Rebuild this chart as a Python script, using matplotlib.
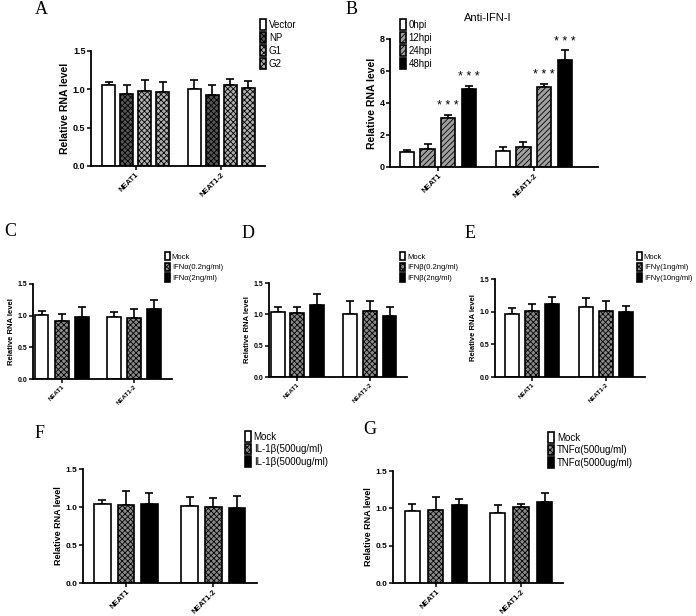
import matplotlib
matplotlib.use("Agg")
import matplotlib.pyplot as plt
import numpy as np

plt.rcParams["font.family"] = ["Liberation Sans", "DejaVu Sans"]
plt.rcParams["hatch.linewidth"] = 0.6

W, H = 696, 616
groups = ["NEAT1", "NEAT1-2"]

# panel A
a_labels = ["Vector", "NP", "G1", "G2"]
a_vals = [[1.05, 0.94, 0.98, 0.96], [1.01, 0.93, 1.06, 1.02]]
a_errs = [[0.05, 0.12, 0.14, 0.13], [0.11, 0.13, 0.07, 0.09]]

# panel B
b_labels = ["0hpi", "12hpi", "24hpi", "48hpi"]
b_vals = [[0.92, 1.15, 3.05, 4.90], [1.02, 1.23, 5.01, 6.68]]
b_errs = [[0.14, 0.27, 0.21, 0.17], [0.21, 0.36, 0.19, 0.61]]

# panel C
c_labels = ["Mock", "IFNα(0.2ng/ml)", "IFNα(2ng/ml)"]
c_vals = [[1.01, 0.92, 0.98], [0.98, 0.96, 1.11]]
c_errs = [[0.06, 0.11, 0.15], [0.08, 0.14, 0.13]]

# panel D
d_labels = ["Mock", "IFNβ(0.2ng/ml)", "IFNβ(2ng/ml)"]
d_vals = [[1.03, 1.02, 1.15], [1.01, 1.06, 0.97]]
d_errs = [[0.08, 0.10, 0.17], [0.20, 0.16, 0.15]]

# panel E
e_labels = ["Mock", "IFNγ(1ng/ml)", "IFNγ(10ng/ml)"]
e_vals = [[0.97, 1.01, 1.11], [1.07, 1.01, 0.99]]
e_errs = [[0.09, 0.10, 0.11], [0.14, 0.15, 0.09]]

# panel F
f_labels = ["Mock", "IL-1β(500ug/ml)", "IL-1β(5000ug/ml)"]
f_vals = [[1.04, 1.03, 1.04], [1.01, 1.00, 0.99]]
f_errs = [[0.05, 0.18, 0.15], [0.12, 0.12, 0.15]]

# panel G
g_labels = ["Mock", "TNFα(500ug/ml)", "TNFα(5000ug/ml)"]
g_vals = [[0.96, 0.98, 1.05], [0.94, 1.02, 1.08]]
g_errs = [[0.10, 0.17, 0.07], [0.11, 0.04, 0.12]]

b_stars = [[None, None, "***", "***"], [None, None, "***", "***"]]

WHITE = dict(facecolor="white", hatch=None)
BLACK = dict(facecolor="black", hatch=None)
MIDCHK = dict(facecolor="#8a8a8a", hatch="xxxxxx")


def px_axes(fig, x0, x1, y0, ytop):
    return fig.add_axes([x0 / W, 1 - y0 / H, (x1 - x0) / W, (y0 - ytop) / H])


def bar_panel(ax, vals, errs, labels, styles, width, step, xlim, ylim, yticks,
              tfs, xfs, lfs, stars=None):
    n = len(labels)
    offs = (np.arange(n) - (n - 1) / 2) * step
    handles = []
    for i in range(n):
        xs = np.arange(len(groups)) + offs[i]
        hv = [v[i] for v in vals]
        he = [e[i] for e in errs]
        st = styles[i]
        bars = ax.bar(xs, hv, width, color=st["facecolor"], edgecolor="black",
                      hatch=st["hatch"], linewidth=1.2, zorder=2, label=labels[i])
        ax.errorbar(xs, hv, yerr=[np.zeros(len(he)), he], fmt="none",
                    ecolor="black", elinewidth=1.2, capsize=3, capthick=1.2,
                    zorder=1)
        handles.append(bars)
        if stars is not None:
            for g in range(len(groups)):
                if stars[g][i]:
                    ax.text(xs[g], hv[g] + he[g] + ylim[1] * 0.02, "* * *",
                            ha="center", va="bottom", fontsize=9)
    ax.set_xlim(*xlim)
    ax.set_ylim(*ylim)
    ax.set_yticks(yticks)
    ax.set_yticklabels([str(t) for t in yticks] if isinstance(yticks[0], int)
                       else [f"{t:.1f}" for t in yticks],
                       fontsize=tfs, fontweight="bold")
    ax.set_xticks(range(len(groups)))
    ax.set_xticklabels(groups, rotation=45, ha="right", rotation_mode="anchor",
                       fontsize=xfs, fontweight="bold")
    ax.set_ylabel("Relative RNA level", fontsize=lfs, fontweight="bold",
                  labelpad=2)
    for s in ["top", "right"]:
        ax.spines[s].set_visible(False)
    for s in ["left", "bottom"]:
        ax.spines[s].set_linewidth(1.3)
    ax.tick_params(axis="both", length=3, width=1.1, pad=1)
    return handles


def add_legend(fig, ax, handles, labels, x, y, fs, spacing):
    ax.legend(handles, labels, loc="upper left", bbox_to_anchor=(x / W, 1 - y / H),
              bbox_transform=fig.transFigure, frameon=False, fontsize=fs,
              handlelength=0.6, handleheight=1.3, handletextpad=0.3,
              labelspacing=spacing, borderpad=0, borderaxespad=0)


def letter(fig, s, x, y):
    fig.text(x / W, 1 - y / H, s, fontsize=13, family="Liberation Serif",
             ha="left", va="center")


fig = plt.figure(figsize=(W / 100, H / 100), dpi=100)

# A
ax = px_axes(fig, 91, 265, 166, 51)
h = bar_panel(ax, a_vals, a_errs, a_labels,
              [WHITE, dict(facecolor="#555555", hatch="xxxxxx"),
               dict(facecolor="#b0b0b0", hatch="xxxxxx"),
               dict(facecolor="#b0b0b0", hatch="xxxxxx")],
              0.15, 0.21, (-0.52, 1.51), (0, 1.5), [0.0, 0.5, 1.0, 1.5],
              6.5, 5.5, 7.5)
add_legend(fig, ax, h, a_labels, 260, 19, 7, 0.25)
letter(fig, "A", 35, 10)

# B
ax = px_axes(fig, 390, 598, 167, 39)
h = bar_panel(ax, b_vals, b_errs, b_labels,
              [WHITE, dict(facecolor="#a0a0a0", hatch="//////"),
               dict(facecolor="#a0a0a0", hatch="//////"), BLACK],
              0.15, 0.215, (-0.5, 1.67), (0, 8), [0, 2, 4, 6, 8],
              6.5, 5.5, 7.5, stars=b_stars)
ax.set_title("Anti-IFN-I", fontsize=8, pad=13, x=0.47)
add_legend(fig, ax, h, b_labels, 400, 19, 7, 0.25)
letter(fig, "B", 346, 10)

# C
ax = px_axes(fig, 33, 172, 379, 284)
h = bar_panel(ax, c_vals, c_errs, c_labels, [WHITE, MIDCHK, BLACK],
              0.19, 0.28, (-0.40, 1.53), (0, 1.5), [0.0, 0.5, 1.0, 1.5],
              5, 4.5, 5.5)
add_legend(fig, ax, h, c_labels, 165, 252, 5.5, 0.25)
letter(fig, "C", 4, 232)

# D
ax = px_axes(fig, 269, 407, 377, 283)
h = bar_panel(ax, d_vals, d_errs, d_labels, [WHITE, MIDCHK, BLACK],
              0.19, 0.27, (-0.39, 1.51), (0, 1.5), [0.0, 0.5, 1.0, 1.5],
              5, 4.5, 5.5)
add_legend(fig, ax, h, d_labels, 400, 252, 5.5, 0.25)
letter(fig, "D", 242, 233)

# E
ax = px_axes(fig, 495, 645, 377, 279)
h = bar_panel(ax, e_vals, e_errs, e_labels, [WHITE, MIDCHK, BLACK],
              0.185, 0.27, (-0.5, 1.53), (0, 1.5), [0.0, 0.5, 1.0, 1.5],
              5, 4.5, 5.5)
add_legend(fig, ax, h, e_labels, 637, 252, 5.5, 0.25)
letter(fig, "E", 465, 233)

# F
ax = px_axes(fig, 83, 257, 583, 469)
h = bar_panel(ax, f_vals, f_errs, f_labels, [WHITE, MIDCHK, BLACK],
              0.19, 0.27, (-0.49, 1.50), (0, 1.5), [0.0, 0.5, 1.0, 1.5],
              6, 5.5, 6.5)
add_legend(fig, ax, h, f_labels, 245, 431, 7, 0.2)
letter(fig, "F", 35, 433)

# G
ax = px_axes(fig, 393, 563, 583, 471)
h = bar_panel(ax, g_vals, g_errs, g_labels, [WHITE, MIDCHK, BLACK],
              0.18, 0.275, (-0.50, 1.49), (0, 1.5), [0.0, 0.5, 1.0, 1.5],
              6, 5.5, 6.5)
add_legend(fig, ax, h, g_labels, 548, 432, 7, 0.2)
letter(fig, "G", 363, 430)

fig.savefig("out.png", dpi=100)
